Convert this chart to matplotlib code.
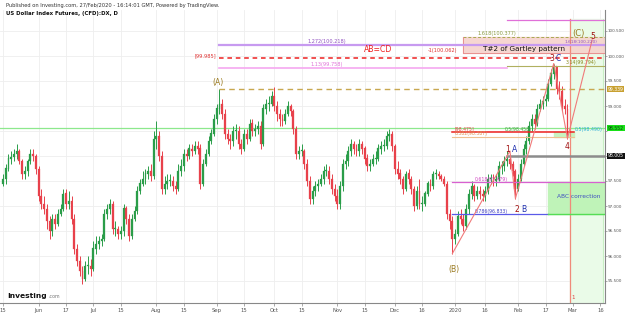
import matplotlib
matplotlib.use("Agg")
import matplotlib.pyplot as plt
import matplotlib.transforms as mtransforms
import numpy as np
import pandas as pd

# ---------------- data ----------------
first_open = 97.45
closes = [
    # May 2019
    97.55, 97.75, 97.95, 97.98, 98.05, 98.10, 97.90, 97.65, 97.70, 97.90, 98.05, 98.00, 97.75,
    # Jun
    97.20, 97.05, 96.95, 96.70, 96.50, 96.75, 96.65, 96.85, 96.95, 97.25, 97.05, 97.10, 96.75, 96.15,
    95.90, 95.70, 95.55, 95.80, 95.80, 95.75,
    # Jul
    96.15, 96.25, 96.30, 96.35, 96.85, 96.95, 97.05, 96.55, 96.55, 96.45, 96.50, 96.95, 96.75, 96.40,
    96.75, 96.90, 97.30, 97.45, 97.55, 97.65, 97.70, 97.60, 98.35,
    # Aug
    98.40, 98.00, 97.35, 97.45, 97.50, 97.50, 97.40, 97.35, 97.70, 97.80, 98.05, 98.00, 98.15, 98.10,
    98.20, 98.15, 97.45, 97.85, 98.05, 98.30, 98.45, 98.75,
    # Sep
    98.95, 99.05, 98.85, 98.45, 98.35, 98.30, 98.50, 98.50, 98.25, 98.15, 98.45, 98.35, 98.65, 98.50,
    98.55, 98.60, 98.25, 98.95, 99.05, 99.05, 99.20,
    # Oct
    99.00, 98.85, 98.75, 98.70, 98.85, 99.00, 98.90, 98.55, 98.05, 98.10, 98.10, 97.85, 97.50, 97.15,
    97.30, 97.40, 97.45, 97.55, 97.70, 97.70, 97.55, 97.35, 97.20,
    # Nov
    97.05, 97.40, 97.85, 97.90, 98.10, 98.25, 98.15, 98.10, 98.25, 98.15, 97.95, 97.80, 97.85, 97.95,
    97.95, 98.15, 98.20, 98.20, 98.40, 98.45, 98.20,
    # Dec
    97.75, 97.65, 97.55, 97.35, 97.65, 97.55, 97.35, 97.00, 97.30, 97.05, 97.05, 97.25, 97.45, 97.40,
    97.65, 97.65, 97.60, 97.55, 97.45, 96.85, 96.70, 96.35,
    # Jan 2020
    96.45, 96.80, 96.75, 96.60, 96.95, 97.25, 97.40, 97.20, 97.30, 97.25, 97.20, 97.30, 97.55, 97.55,
    97.50, 97.55, 97.80, 97.80, 97.90, 97.95, 97.85, 97.70, 97.35,
    # Feb
    97.55, 97.85, 98.15, 98.30, 98.60, 98.75, 98.65, 98.95, 99.05, 99.10, 99.15, 99.45, 99.65, 99.80,
    99.35, 99.30, 99.00, 98.95, 98.45,
]
highs = [
    97.65, 97.85, 98.05, 98.10, 98.15, 98.25, 98.15, 97.95, 97.80, 97.95, 98.15, 98.15, 98.05,
    97.80, 97.35, 97.20, 97.05, 96.80, 96.85, 96.85, 96.95, 97.05, 97.35, 97.35, 97.30, 97.20, 96.85,
    96.25, 96.00, 95.80, 95.90, 96.00, 95.95,
    96.30, 96.40, 96.40, 96.45, 96.95, 97.05, 97.15, 97.10, 96.70, 96.60, 96.60, 97.05, 97.00, 96.85,
    96.85, 97.00, 97.40, 97.55, 97.70, 97.75, 97.80, 97.85, 98.50,
    98.70, 98.50, 98.10, 97.60, 97.65, 97.65, 97.60, 97.50, 97.85, 97.95, 98.15, 98.15, 98.25, 98.25,
    98.30, 98.30, 98.25, 97.95, 98.15, 98.40, 98.55, 98.85,
    99.05, 99.34, 99.15, 98.95, 98.55, 98.45, 98.60, 98.65, 98.60, 98.35, 98.55, 98.55, 98.75, 98.75,
    98.65, 98.70, 98.70, 99.05, 99.15, 99.20, 99.30,
    99.38, 99.10, 98.95, 98.85, 98.95, 99.10, 99.05, 98.95, 98.60, 98.20, 98.25, 98.15, 97.95, 97.60,
    97.40, 97.50, 97.55, 97.65, 97.80, 97.85, 97.80, 97.65, 97.45,
    97.35, 97.50, 97.95, 98.05, 98.20, 98.35, 98.30, 98.25, 98.35, 98.30, 98.20, 98.05, 97.95, 98.05,
    98.10, 98.25, 98.30, 98.35, 98.50, 98.55, 98.50,
    98.25, 97.90, 97.75, 97.60, 97.70, 97.75, 97.60, 97.40, 97.40, 97.55, 97.20, 97.30, 97.50, 97.55,
    97.70, 97.75, 97.70, 97.65, 97.60, 97.50, 96.95, 96.80,
    96.55, 96.90, 96.95, 96.85, 97.05, 97.35, 97.50, 97.45, 97.40, 97.40, 97.35, 97.40, 97.65, 97.65,
    97.65, 97.65, 97.90, 97.90, 98.00, 98.10, 98.05, 97.90, 97.75,
    97.65, 97.95, 98.25, 98.40, 98.70, 98.85, 98.85, 99.05, 99.15, 99.20, 99.25, 99.55, 99.75, 99.85,
    99.80, 99.50, 99.40, 99.15, 99.05,
]
lows = [
    97.40, 97.45, 97.70, 97.85, 97.90, 97.95, 97.85, 97.55, 97.55, 97.60, 97.85, 97.90, 97.65,
    97.10, 96.95, 96.85, 96.55, 96.35, 96.40, 96.55, 96.60, 96.80, 96.90, 96.95, 96.95, 96.65, 96.05,
    95.80, 95.60, 95.45, 95.50, 95.65, 95.60,
    95.70, 96.05, 96.15, 96.20, 96.30, 96.75, 96.85, 96.45, 96.40, 96.35, 96.35, 96.40, 96.65, 96.30,
    96.35, 96.70, 96.85, 97.25, 97.40, 97.45, 97.55, 97.50, 97.55,
    98.15, 97.90, 97.25, 97.25, 97.35, 97.40, 97.30, 97.25, 97.30, 97.60, 97.70, 97.90, 97.95, 98.00,
    98.05, 98.05, 97.35, 97.40, 97.80, 98.00, 98.25, 98.40,
    98.65, 98.85, 98.75, 98.35, 98.25, 98.15, 98.20, 98.35, 98.15, 98.05, 98.10, 98.25, 98.30, 98.40,
    98.40, 98.45, 98.15, 98.20, 98.85, 98.90, 99.00,
    98.90, 98.70, 98.60, 98.60, 98.65, 98.80, 98.80, 98.45, 97.95, 97.95, 98.00, 97.75, 97.40, 97.05,
    97.05, 97.20, 97.30, 97.40, 97.45, 97.60, 97.45, 97.25, 97.10,
    96.95, 96.95, 97.30, 97.75, 97.80, 98.00, 98.05, 98.00, 98.00, 98.05, 97.85, 97.70, 97.70, 97.80,
    97.85, 97.90, 98.05, 98.10, 98.15, 98.30, 98.10,
    97.65, 97.55, 97.45, 97.25, 97.30, 97.45, 97.25, 96.90, 96.95, 96.95, 96.90, 97.00, 97.20, 97.30,
    97.35, 97.55, 97.55, 97.50, 97.40, 96.75, 96.55, 96.05,
    96.25, 96.40, 96.65, 96.50, 96.55, 96.85, 97.15, 97.10, 97.15, 97.15, 97.10, 97.10, 97.25, 97.45,
    97.40, 97.40, 97.50, 97.65, 97.70, 97.80, 97.75, 97.60, 97.15,
    97.30, 97.50, 97.80, 98.05, 98.25, 98.50, 98.55, 98.60, 98.90, 98.95, 99.00, 99.10, 99.40, 99.55,
    99.25, 99.15, 98.90, 98.85, 98.35,
]

tick_dates = ["2019-05-15", "2019-06-03", "2019-06-17", "2019-07-01", "2019-07-15", "2019-08-01",
              "2019-08-15", "2019-09-02", "2019-09-16", "2019-10-01", "2019-10-15", "2019-11-01",
              "2019-11-15", "2019-12-02", "2019-12-16", "2020-01-01", "2020-01-16", "2020-02-03",
              "2020-02-17", "2020-03-02", "2020-03-16"]
tick_labels = ["15", "Jun", "17", "Jul", "15", "Aug", "15", "Sep", "15", "Oct", "15", "Nov",
               "15", "Dec", "16", "2020", "16", "Feb", "17", "Mar", "16"]

price_ticks = [95.5, 96.0, 96.5, 97.0, 97.5, 98.0, 98.5, 99.0, 99.5, 100.0, 100.5]
price_tick_labels = ["95.500", "96.000", "96.500", "97.000", "97.500", "", "", "99.000",
                     "99.500", "100.000", "100.500"]

# fib / pattern levels
lvl_top = 100.72
lvl_1618 = 100.377
lvl_1272 = 100.218
lvl_box_bottom = 100.06
lvl_abcd = 100.0
lvl_314 = 99.794
lvl_113 = 99.758
lvl_A = 99.339
lvl_green = 98.552
lvl_red = 98.475
lvl_382 = 98.387
lvl_gray = 98.005
lvl_618 = 97.479
lvl_786 = 96.833

# wave points (date, price)
wave_dates = ["2019-12-31", "2020-01-29", "2020-01-31", "2020-02-20", "2020-02-27", "2020-03-11"]
wave_prices = [96.05, 98.10, 97.15, 99.85, 98.35, 100.32]

# ---------------- figure ----------------
dates = pd.bdate_range("2019-05-15", "2020-03-20")
idx = {d.strftime("%Y-%m-%d"): i for i, d in enumerate(dates)}
def xi(d):
    return idx[d]

n = len(closes)
x = np.arange(n)
opens = [first_open] + closes[:-1]

W, H = 625, 314
fig = plt.figure(figsize=(W / 100, H / 100), dpi=100)
fig.patch.set_facecolor("white")
ax = fig.add_axes([0, 11 / H, 605 / W, 293 / H])
ax.set_xlim(-1.1, 219.7)
ax.set_ylim(95.06, 100.92)

# grid
for p in price_ticks:
    ax.axhline(p, color="#eeeeee", lw=0.6, zorder=0)
for d in tick_dates:
    ax.axvline(xi(d), color="#eeeeee", lw=0.6, zorder=0)

# right green zone
x_zone0 = xi("2020-02-28")
x_zone1 = 218.9
ax.axvspan(x_zone0, x_zone1, ymin=0, ymax=(100.74 - 95.06) / (100.92 - 95.06),
           color="#eafbe8", zorder=0.5)
ax.plot([x_zone1, x_zone1], [95.06, 100.74], color="#c8efc4", lw=0.8, zorder=0.6)
ax.plot([x_zone0, x_zone0], [95.06, 100.74], color="#f08a7a", lw=0.9, zorder=3)
ax.text(x_zone0 + 0.5, 95.12, "1", color="#e04040", fontsize=4, ha="left", va="bottom")

# candles
up_c, dn_c = "#2a9d49", "#e8414b"
cols = [up_c if c >= o else dn_c for o, c in zip(opens, closes)]
ax.vlines(x, lows, highs, colors=cols, lw=0.7, zorder=2)
bottoms = [min(o, c) for o, c in zip(opens, closes)]
heights = [max(abs(c - o), 0.02) for o, c in zip(opens, closes)]
ax.bar(x, heights, bottom=bottoms, width=0.7, color=cols, edgecolor=cols, lw=0.2, zorder=2.5)

xr = 219.7
xA = xi("2019-09-03")
xB = xi("2019-12-31")
x_jan6 = xi("2020-01-06")
x_jan28 = xi("2020-01-28")
x_feb18 = xi("2020-02-18")

# top magenta
ax.plot([x_jan28, xr], [lvl_top, lvl_top], color="#e070d8", lw=0.9, zorder=3)
# Gartley box
ax.fill_between([x_jan6, xr], lvl_box_bottom, lvl_1618, color="#f6d2cc", alpha=0.9, zorder=1)
ax.plot([x_jan6, xr], [lvl_1618, lvl_1618], color="#a8a850", lw=0.7, ls=(0, (3, 2)), zorder=3)
ax.plot([x_jan6, xr], [lvl_box_bottom, lvl_box_bottom], color="#e89090", lw=0.7, zorder=3)
ax.plot([x_jan6, x_jan6], [lvl_box_bottom, lvl_1618], color="#e89090", lw=0.7, zorder=3)
ax.text(x_jan6 + 5, lvl_1618 + 0.02, "1.618(100.377)", color="#8a9a40", fontsize=3.6,
        ha="left", va="bottom", zorder=5)
ax.text(x_jan6 + 7, 100.15, "T#2 of Gartley pattern", color="#111111", fontsize=5.2,
        ha="left", va="center", zorder=5)
# 1.272 purple
ax.plot([xA, xr], [lvl_1272, lvl_1272], color="#c79af0", lw=1.6, zorder=3)
ax.text(118, lvl_1272 + 0.02, "1.272(100.218)", color="#9050c0", fontsize=3.6,
        ha="center", va="bottom", zorder=5)
ax.text(211, lvl_1272 + 0.02, "1.618(100.220)", color="#9050c0", fontsize=3.1,
        ha="center", va="bottom", zorder=5)
# AB=CD
ax.plot([xA, xr], [lvl_abcd - 0.03, lvl_abcd - 0.03], color="#ee2020", lw=1.1,
        ls=(0, (3, 2.5)), zorder=3)
ax.text(xA - 1, lvl_abcd, "[99.985]", color="#e03030", fontsize=3.6, ha="right", va="center")
ax.text(137, lvl_abcd + 0.03, "AB=CD", color="#ee2020", fontsize=5.6, ha="center", va="bottom")
ax.text(155, lvl_abcd + 0.06, "-1(100.062)", color="#e03030", fontsize=3.6, ha="left",
        va="bottom")
# 3.14
ax.plot([x_jan28, xr], [lvl_314, lvl_314], color="#b0b060", lw=0.8, zorder=3)
ax.text(211, lvl_314 + 0.02, "3.14(99.794)", color="#8a8a20", fontsize=3.4, ha="center",
        va="bottom")
# 1.13 pink
ax.plot([xA, x_jan28], [lvl_113, lvl_113], color="#f5a8f0", lw=1.2, zorder=3)
ax.text(118, lvl_113 + 0.02, "1.13(99.758)", color="#e070d8", fontsize=3.6, ha="center",
        va="bottom")
# A level
ax.plot([xA, xr], [lvl_A, lvl_A], color="#c8a850", lw=1.0, ls=(0, (4, 3)), zorder=3)
# green full line
ax.axhline(lvl_green, color="#8de88d", lw=0.9, zorder=1.5)
# red / orange near 98.4
ax.plot([xB, x_zone0 + 1.5], [lvl_red, lvl_red], color="#ee2020", lw=1.1, zorder=3)
ax.plot([xB, x_zone0 + 1.5], [lvl_382, lvl_382], color="#f0c090", lw=0.8, zorder=3)
ax.text(xB + 1, lvl_red + 0.01, "[98.475]", color="#e04040", fontsize=3.3, ha="left",
        va="bottom")
ax.text(xB + 1, lvl_382 + 0.005, "0.382(98.387)", color="#e09050", fontsize=3.3, ha="left",
        va="bottom")
ax.text(x_jan28 - 1, lvl_red + 0.01, "0.5(98.458)", color="#40a040", fontsize=3.3,
        ha="left", va="bottom")
ax.fill_between([x_feb18 + 2, x_zone0 + 1.5], lvl_382, lvl_red, color="#c8f3c0", zorder=1.6)
ax.text(x_zone0 + 1.8, lvl_red + 0.01, "0.5(98.490)", color="#30b0d8", fontsize=3.4,
        ha="left", va="bottom")
# gray 98.005
ax.plot([x_jan28, xr], [lvl_gray, lvl_gray], color="#8c8c8c", lw=1.8, zorder=3)
# 0.618 magenta
ax.plot([xB, xr], [lvl_618, lvl_618], color="#d860d0", lw=0.9, zorder=3)
ax.text(xB + 8, lvl_618 + 0.01, "0.618(97.479)", color="#d040c0", fontsize=3.3, ha="left",
        va="bottom")
# 0.786 blue
ax.plot([xB, x_feb18], [lvl_786, lvl_786], color="#5a5ae8", lw=0.9, zorder=3)
ax.text(xB + 8, lvl_786 + 0.01, "0.786(96.833)", color="#4040c0", fontsize=3.3, ha="left",
        va="bottom")
# ABC correction box
ax.fill_between([x_feb18, xr], lvl_786, lvl_618, color="#bff3b8", zorder=1.6)
ax.plot([x_feb18, xr], [lvl_786, lvl_786], color="#55dd55", lw=1.0, zorder=3)
ax.text(x_feb18 + 3, 97.2, "ABC correction", color="#4050c0", fontsize=4.2, ha="left",
        va="center", zorder=5)

# wave lines
wx = [xi(d) for d in wave_dates]
ax.plot(wx, wave_prices, color="#f07a7a", lw=0.8, zorder=4)

# wave labels
def lab(xv, yv, s, c, fs=5.5, ha="center"):
    ax.text(xv, yv, s, color=c, fontsize=fs, ha=ha, va="center", zorder=6)

olive = "#9a7a20"
lab(xA - 0.5, 99.48, "(A)", olive)
lab(xB + 0.5, 95.74, "(B)", olive)
lab(210, 100.46, "(C)", olive, fs=6)
lab(wx[1] - 1, 98.12, "1", "#a01010")
lab(wx[1] + 1.7, 98.12, "A", "#2030b0")
lab(wx[2] + 0.6, 96.93, "2", "#a01010")
lab(wx[2] + 3.1, 96.93, "B", "#2030b0")
lab(wx[3] - 0.6, 99.95, "3", "#a01010")
lab(wx[3] + 1.6, 99.95, "C", "#2030b0")
lab(wx[4], 98.19, "4", "#a01010")
lab(wx[5] + 0.4, 100.39, "5", "#a01010")

# axes styling
for s in ["top", "left"]:
    ax.spines[s].set_visible(False)
ax.spines["right"].set_color("#888888")
ax.spines["bottom"].set_color("#888888")
ax.spines["right"].set_linewidth(0.8)
ax.spines["bottom"].set_linewidth(0.8)
ax.yaxis.tick_right()
ax.set_yticks(price_ticks)
ax.set_yticklabels(price_tick_labels)
ax.set_xticks([xi(d) for d in tick_dates])
ax.set_xticklabels(tick_labels)
ax.tick_params(axis="x", labelsize=3.8, colors="#888888", length=2, width=0.5, pad=1.5)
ax.tick_params(axis="y", labelsize=3.0, colors="#888888", length=1.2, width=0.5, pad=0.6)
for t in ax.get_xticklabels() + ax.get_yticklabels():
    t.set_color("#555555")

# price badges on right axis
tb = mtransforms.blended_transform_factory(ax.transAxes, ax.transData)
def badge(p, s, fc, tc):
    ax.text(1.005, p, s, transform=tb, fontsize=3.3, color=tc, ha="left", va="center",
            bbox=dict(boxstyle="square,pad=0.12", fc=fc, ec="none"), clip_on=False, zorder=10)

badge(lvl_A, "99.339", "#c8a030", "white")
badge(lvl_green, "98.552", "#18e018", "#114411")
badge(lvl_gray, "98.005", "#111111", "white")

# header & logo
fig.text(6 / W, 1 - 5 / H, "Published on Investing.com, 27/Feb/2020 - 16:14:01 GMT, Powered by TradingView.",
         fontsize=3.7, color="#333333", ha="left", va="center")
fig.text(6 / W, 1 - 14 / H, "US Dollar Index Futures, (CFD):DX, D", fontsize=3.9,
         fontweight="bold", color="#111111", ha="left", va="center")
fig.text(7 / W, 1 - 296 / H, "Investing", fontsize=5.4, fontweight="bold", color="#111111",
         ha="left", va="center")
fig.text(48 / W, 1 - 297 / H, ".com", fontsize=3.4, color="#777777", ha="left", va="center")

fig.savefig("out.png", dpi=100, facecolor="white")
